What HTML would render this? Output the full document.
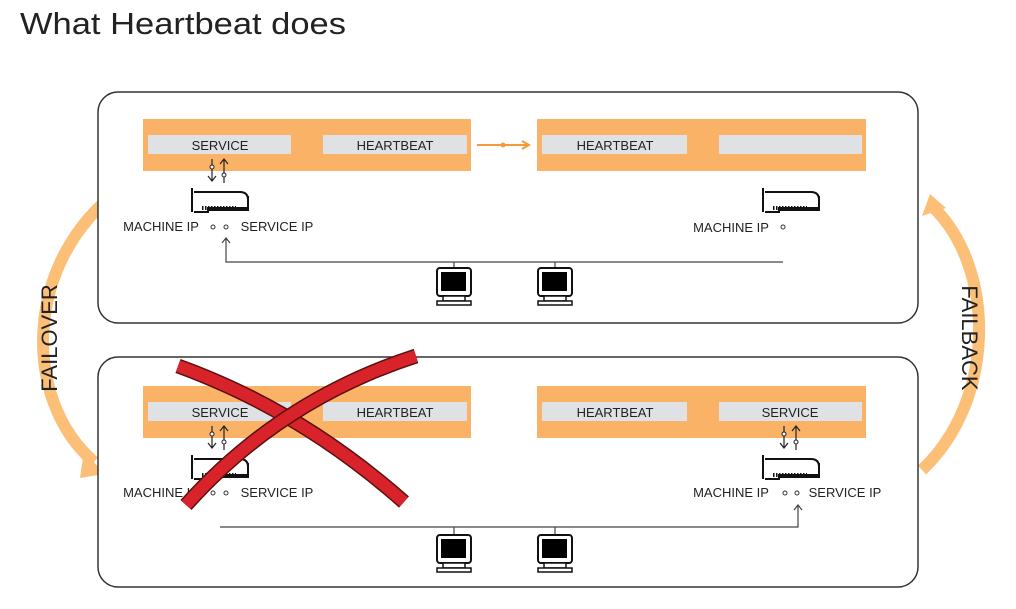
<!DOCTYPE html>
<html><head><meta charset="utf-8"><style>
html,body{margin:0;padding:0;background:#fff;}
svg{display:block;font-family:"Liberation Sans",sans-serif;}
</style></head><body>
<svg width="1016" height="609" viewBox="0 0 1016 609" xmlns="http://www.w3.org/2000/svg">
<defs>
<g id="nic">
<path d="M0 0 V24 M2 4 H48 Q56 4 56 12 V20 H16 V24 H2" fill="none" stroke="#111" stroke-width="2"/>
<path d="M10 20 H44" stroke="#111" stroke-width="4" stroke-dasharray="1.5 1.5"/>
<path d="M56 8 V22 H16" fill="none" stroke="#111" stroke-width="2"/>
</g>
<g id="pc">
<rect x="0" y="0" width="34" height="28" rx="3" fill="#fff" stroke="#111" stroke-width="2"/>
<rect x="4" y="4" width="25" height="19" fill="#000"/>
<rect x="6" y="28" width="22" height="5" fill="#fff" stroke="#111" stroke-width="1.5"/>
<rect x="0" y="33" width="34" height="4" fill="#fff" stroke="#111" stroke-width="1.5"/>
</g>
<g id="io">
<path d="M0 0 V22 M-4 17 L0 22 L4 17" fill="none" stroke="#222" stroke-width="1.2"/>
<circle cx="0" cy="8" r="2" fill="#fff" stroke="#222"/>
<path d="M12 24 V0 M8 5 L12 0 L16 5" fill="none" stroke="#222" stroke-width="1.2"/>
<circle cx="12" cy="16" r="2" fill="#fff" stroke="#222"/>
</g>
</defs>
<text x="20" y="34" font-size="31" fill="#222" textLength="326" lengthAdjust="spacingAndGlyphs">What Heartbeat does</text>

<!-- arcs -->
<path d="M122 188 C22 260 22 400 94 462" fill="none" stroke="#fbbf77" stroke-width="12"/>
<path d="M84 450 L104 474 L80 478 Z" fill="#fbbf77"/>
<text transform="translate(57 338) rotate(-90)" text-anchor="middle" font-size="22" fill="#222">FAILOVER</text>
<path d="M922 470 C996 400 996 270 934 208" fill="none" stroke="#fbbf77" stroke-width="12"/>
<path d="M922 216 L930 194 L946 208 Z" fill="#fbbf77"/>
<text transform="translate(962 338) rotate(90)" text-anchor="middle" font-size="22" fill="#222">FAILBACK</text>

<!-- panels -->
<rect x="98" y="92" width="820" height="231" rx="20" fill="#fff" stroke="#333" stroke-width="1.5"/>
<rect x="98" y="357" width="820" height="230" rx="20" fill="#fff" stroke="#333" stroke-width="1.5"/>

<g font-size="13" fill="#222" text-anchor="middle">
<!-- top -->
<rect x="143" y="119" width="328" height="52" fill="#fab366"/>
<rect x="537" y="119" width="329" height="52" fill="#fab366"/>
<rect x="148" y="135" width="143" height="19" fill="#dfe1e5"/>
<rect x="323" y="135" width="144" height="19" fill="#dfe1e5"/>
<rect x="542" y="135" width="145" height="19" fill="#dfe1e5"/>
<rect x="719" y="135" width="143" height="19" fill="#dfe1e5"/>
<text x="220" y="150">SERVICE</text><text x="395" y="150">HEARTBEAT</text><text x="615" y="150">HEARTBEAT</text>
<path d="M477 145 H528 M522 141 L529 145 L522 149" fill="none" stroke="#f39a3a" stroke-width="2"/>
<circle cx="503" cy="145" r="2.5" fill="#f39a3a"/>
<use href="#io" x="212" y="159"/>
<use href="#nic" x="192" y="188"/>
<use href="#nic" x="763" y="188"/>
<text x="161" y="231">MACHINE IP</text>
<circle cx="213" cy="227" r="2" fill="#fff" stroke="#333"/><circle cx="226" cy="227" r="2" fill="#fff" stroke="#333"/>
<text x="277" y="231">SERVICE IP</text>
<text x="731" y="232">MACHINE IP</text>
<circle cx="783" cy="227" r="2" fill="#fff" stroke="#333"/>
<path d="M783 262 H226 V238 M222 243 L226 238 L230 243" fill="none" stroke="#444" stroke-width="1.2"/>
<path d="M454 262 V268 M555 262 V268" stroke="#444" stroke-width="1.2"/>
<use href="#pc" x="437" y="268"/><use href="#pc" x="538" y="268"/>

<!-- bottom -->
<rect x="143" y="386" width="328" height="52" fill="#fab366"/>
<rect x="537" y="386" width="329" height="52" fill="#fab366"/>
<rect x="148" y="402" width="143" height="19" fill="#dfe1e5"/>
<rect x="323" y="402" width="144" height="19" fill="#dfe1e5"/>
<rect x="542" y="402" width="145" height="19" fill="#dfe1e5"/>
<rect x="719" y="402" width="143" height="19" fill="#dfe1e5"/>
<text x="220" y="417">SERVICE</text><text x="395" y="417">HEARTBEAT</text><text x="615" y="417">HEARTBEAT</text><text x="790" y="417">SERVICE</text>
<use href="#io" x="212" y="426"/>
<use href="#io" x="784" y="426"/>
<use href="#nic" x="192" y="455"/>
<use href="#nic" x="763" y="455"/>
<text x="161" y="497">MACHINE IP</text>
<circle cx="213" cy="493" r="2" fill="#fff" stroke="#333"/><circle cx="226" cy="493" r="2" fill="#fff" stroke="#333"/>
<text x="277" y="497">SERVICE IP</text>
<text x="731" y="497">MACHINE IP</text>
<circle cx="785" cy="493" r="2" fill="#fff" stroke="#333"/><circle cx="797" cy="493" r="2" fill="#fff" stroke="#333"/>
<text x="845" y="497">SERVICE IP</text>
<path d="M220 527 H798 V505 M794 510 L798 505 L802 510" fill="none" stroke="#444" stroke-width="1.2"/>
<path d="M454 527 V535 M555 527 V535" stroke="#444" stroke-width="1.2"/>
<use href="#pc" x="437" y="535"/><use href="#pc" x="538" y="535"/>
</g>

<!-- red X -->
<path d="M178 366 Q300 410 404 502" fill="none" stroke="#5a1010" stroke-width="15"/>
<path d="M178 366 Q300 410 404 502" fill="none" stroke="#d8232a" stroke-width="12"/>
<path d="M416 356 Q280 400 186 505" fill="none" stroke="#5a1010" stroke-width="15"/>
<path d="M416 356 Q280 400 186 505" fill="none" stroke="#d8232a" stroke-width="12"/>
</svg>
</body></html>
